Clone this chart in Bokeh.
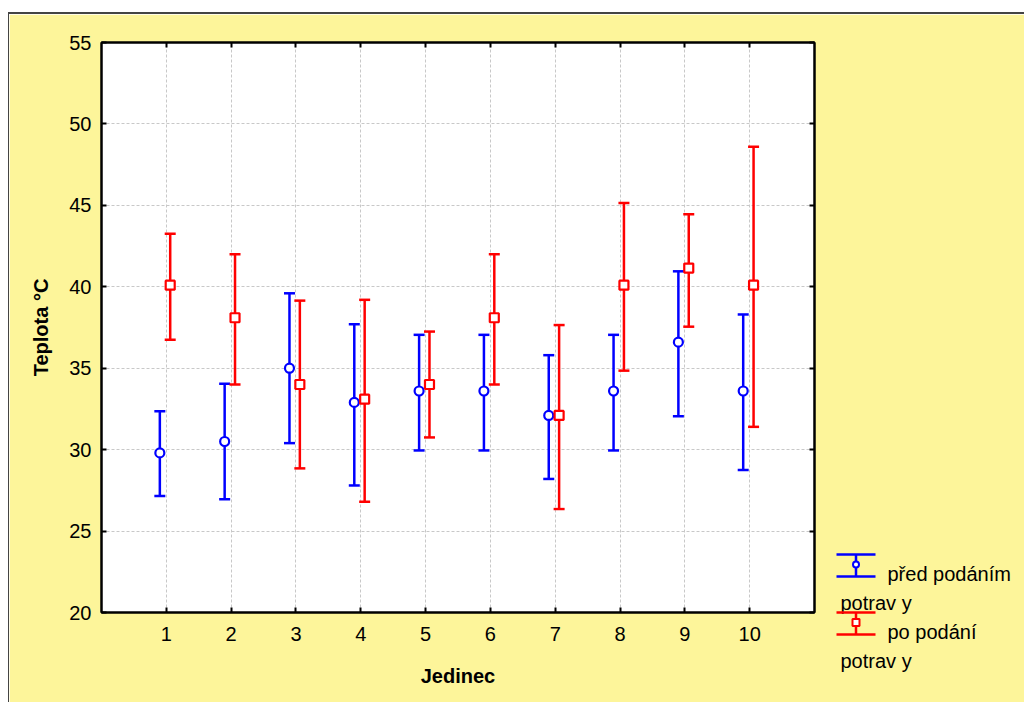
from bokeh.plotting import figure
from bokeh.models import (ColumnDataSource, Whisker, FixedTicker, LinearAxis, Range1d, Spacer, TeeHead)
from bokeh.layouts import row, column
from bokeh.core.properties import value
from bokeh.embed import file_html
from bokeh.resources import INLINE

# ---- data ----
jedinec = [1, 2, 3, 4, 5, 6, 7, 8, 9, 10]
pred_mean = [29.8, 30.5, 35.0, 32.9, 33.6, 33.6, 32.1, 33.6, 36.6, 33.6]
pred_upper = [32.35, 34.05, 39.6, 37.7, 37.05, 37.05, 35.8, 37.05, 40.95, 38.3]
pred_lower = [27.15, 26.95, 30.4, 27.8, 29.95, 29.95, 28.2, 29.95, 32.05, 28.75]
po_mean = [40.1, 38.1, 34.0, 33.1, 34.0, 38.1, 32.1, 40.1, 41.15, 40.1]
po_upper = [43.25, 42.0, 39.15, 39.2, 37.25, 42.0, 37.65, 45.15, 44.45, 48.6]
po_lower = [36.75, 34.0, 28.85, 26.8, 30.75, 34.0, 26.35, 34.85, 37.55, 31.4]
x_ticks = [1, 2, 3, 4, 5, 6, 7, 8, 9, 10]
y_ticks = [20, 25, 30, 35, 40, 45, 50, 55]
series_labels = ["před podáním", "po podání"]
series_labels_2 = ["potrav y", "potrav y"]
x_title = "Jedinec"
y_title = "Teplota °C"

BLUE = "#0000FF"
RED = "#FF0000"
BG = "#FDF59A"
FONT = "Liberation Sans"

off_pred = -0.1
off_po = 0.06

src_pred = ColumnDataSource(dict(x=[v + off_pred for v in jedinec], y=pred_mean,
                                 upper=pred_upper, lower=pred_lower))
src_po = ColumnDataSource(dict(x=[v + off_po for v in jedinec], y=po_mean,
                               upper=po_upper, lower=po_lower))

# page geometry (pixels)
FIG_X0, FIG_Y0 = 9, 14
ML, MT = 92, 28
FW, FH = 713, 570
W, H = 1015, 688

p = figure(width=W, height=H, x_range=Range1d(0, 11), y_range=Range1d(20, 55),
           output_backend="svg", toolbar_location=None,
           min_border_left=ML, min_border_right=W - ML - FW,
           min_border_top=MT, min_border_bottom=H - MT - FH)
p.background_fill_color = "white"
p.border_fill_color = BG
p.outline_line_color = "black"
p.outline_line_width = 2

xax = p.xaxis[0]
yax = p.yaxis[0]
xax.ticker = FixedTicker(ticks=x_ticks)
yax.ticker = FixedTicker(ticks=y_ticks)

top = LinearAxis(ticker=FixedTicker(ticks=x_ticks), major_label_text_font_size="8px",
                 major_label_text_color=None, major_label_standoff=0)
right = LinearAxis(ticker=FixedTicker(ticks=y_ticks), major_label_text_font_size="8px",
                   major_label_text_color=None, major_label_standoff=0)
p.add_layout(top, "above")
p.add_layout(right, "right")

for ax in [xax, yax, top, right]:
    ax.axis_line_color = "black"
    ax.axis_line_width = 2
    ax.major_tick_in = 5
    ax.major_tick_out = 0
    ax.major_tick_line_color = "black"
    ax.major_tick_line_width = 2
    ax.minor_tick_line_color = None
    ax.major_label_text_font = FONT

for ax in [xax, yax]:
    ax.major_label_text_color = "black"
    ax.major_label_text_font_size = "20px"
    ax.axis_label_text_font = FONT
    ax.axis_label_text_font_style = "bold"
    ax.axis_label_text_font_size = "20px"
    ax.axis_label_text_color = "black"
xax.major_label_standoff = 14
yax.major_label_standoff = 10
xax.axis_label = x_title
yax.axis_label = y_title
xax.axis_label_standoff = 21
yax.axis_label_standoff = 14

p.xgrid.ticker = FixedTicker(ticks=x_ticks)
p.ygrid.ticker = FixedTicker(ticks=y_ticks)
for g in [p.xgrid[0], p.ygrid[0]]:
    g.grid_line_color = "#c8c8c8"
    g.grid_line_dash = "3 2"
    g.grid_line_width = 1

for src, col in [(src_pred, BLUE), (src_po, RED)]:
    w = Whisker(base="x", upper="upper", lower="lower", source=src, dimension="height",
                line_color=col, line_width=2.5,
                upper_head=TeeHead(size=11, line_color=col, line_width=2.5),
                lower_head=TeeHead(size=11, line_color=col, line_width=2.5))
    p.add_layout(w)

p.scatter("x", "y", source=src_pred, marker="circle", size=9, fill_color="white",
          line_color=BLUE, line_width=2.2)
p.scatter("x", "y", source=src_po, marker="square", size=9, fill_color="white",
          line_color=RED, line_width=2.2)

# ---- legend (page-pixel coordinate ranges, drawn above the border area) ----
p.extra_x_ranges["px"] = Range1d(FIG_X0 + ML, FIG_X0 + ML + FW)
p.extra_y_ranges["py"] = Range1d(FIG_Y0 + MT + FH, FIG_Y0 + MT)

leg_top = [554, 612]
cols = [BLUE, RED]
kw = dict(x_range_name="px", y_range_name="py", level="overlay")
for i in range(2):
    yc = leg_top[i]
    p.segment(x0=[836, 836], y0=[yc, yc + 22], x1=[875, 875], y1=[yc, yc + 22],
              line_color=cols[i], line_width=2.5, **kw)
    p.segment(x0=[855.5], y0=[yc], x1=[855.5], y1=[yc + 22], line_color=cols[i],
              line_width=2.5, **kw)
    p.text(x=[887], y=[yc + 19], text=[series_labels[i]], text_font=value(FONT),
           text_font_size="20px", text_baseline="alphabetic", text_color="black", **kw)
    p.text(x=[840], y=[yc + 48], text=[series_labels_2[i]], text_font=value(FONT),
           text_font_size="20px", text_baseline="alphabetic", text_color="black", **kw)

# legend sample markers
p.ellipse(x=[855.5], y=[leg_top[0] + 10], width=6, height=6, fill_color="white",
          line_color=BLUE, line_width=2, **kw)
sq_x, sq_y = 855.5, leg_top[1] + 10
p.patch(x=[sq_x - 3.5, sq_x + 3.5, sq_x + 3.5, sq_x - 3.5],
        y=[sq_y - 3.5, sq_y - 3.5, sq_y + 3.5, sq_y + 3.5],
        fill_color="white", line_color=RED, line_width=2, **kw)

framed = row(p, styles={"border-left": "1px solid #444", "border-top": "2px solid #444"})
layout = column(Spacer(height=12), row(Spacer(width=8), framed))

open("out.html", "w").write(file_html(layout, INLINE))
